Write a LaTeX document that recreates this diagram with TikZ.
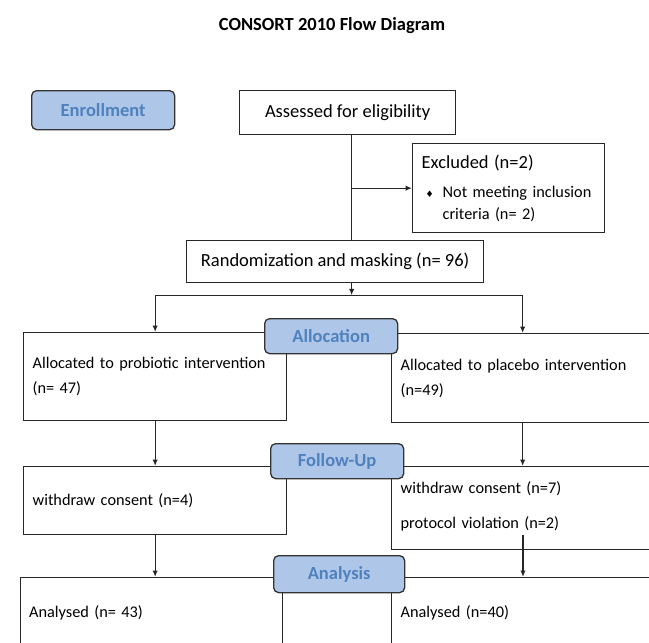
\documentclass[tikz,border=0pt]{standalone}
\usepackage{fontspec}
\setmainfont{Carlito}
\newfontfamily\symfnt{DejaVu Sans}
\usepackage{xcolor}
\usepackage{tikz}
\usetikzlibrary{calc, positioning, arrows.meta}

\definecolor{stagefill}{RGB}{174,198,232}
\definecolor{stagetext}{RGB}{79,129,189}
\newcommand{\bigtxt}{\fontsize{18.5}{22}\selectfont}
\newcommand{\smtxt}{\fontsize{16.3}{25}\selectfont}

\tikzset{
  box/.style={draw=black!85, line width=1.3pt, anchor=north west, inner xsep=9pt, inner ysep=0pt, align=left, font=\smtxt},
  midbox/.style={box, align=center, font=\bigtxt},
  stage/.style={draw=black!80, fill=stagefill, line width=1.3pt, rounded corners=5pt, anchor=north west, inner sep=0pt, text=stagetext, font=\bigtxt\bfseries},
  conn/.style={draw=black!85, line width=1.3pt},
  arr/.style={conn, ->},
}

\begin{document}
\begin{tikzpicture}[>={Latex[length=6.5pt,width=5.5pt]}, x=1pt, y=-1pt]
    \useasboundingbox (0,0) rectangle (649,643);
    \clip (0,0) rectangle (649,643);

    % Title
    \node[anchor=base, font=\bigtxt\bfseries] (title) at (332,30) {CONSORT 2010 Flow Diagram};

    % Enrollment
    \node[midbox, minimum width=216pt, minimum height=44pt] (assess) at (239,90) {Assessed for eligibility};
    \node[box, text width=174pt, minimum height=89pt] (excl) at (412,143)
        {{\bigtxt Excluded (n=2)}\\[4pt]
         \makebox[21pt][l]{\hspace{4pt}{\symfnt\fontsize{9}{9}\selectfont ♦}}Not meeting inclusion\\[-3pt]
         \hspace*{21pt}criteria (n= 2)};
    \node[midbox, minimum width=297pt, minimum height=42pt] (rand) at (186,240) {Randomization and masking (n= 96)};

    % Allocation
    \node[box, text width=245pt, minimum height=88pt] (allocL) at (23,332) {Allocated to probiotic intervention\\(n= 47)};
    \node[box, text width=244pt, minimum height=89pt] (allocR) at (391,333) {Allocated to placebo intervention\\(n=49)};

    % Follow-up
    \node[box, text width=245pt, minimum height=68pt] (folL) at (23,466) {withdraw consent (n=4)};
    \node[box, text width=244pt, minimum height=83pt] (folR) at (391,466) {withdraw consent (n=7)\\[10pt]protocol violation (n=2)\\[-18pt]\mbox{}};

    % Analysis
    \node[box, inner xsep=8.5pt, text width=245pt, minimum height=70pt] (anaL) at (20,577) {Analysed (n= 43)};
    \node[box, text width=244pt, minimum height=70pt] (anaR) at (391,577) {Analysed (n=40)};

    % Connectors
    \coordinate (trunk) at ($(assess.south)+(4,0)$);
    \draw[conn] (trunk) -- (trunk |- rand.north);
    \draw[arr] (trunk |- excl.west) -- (excl.west);
    \coordinate (split) at ($(trunk |- rand.south)+(0,12)$);
    \draw[arr] (trunk |- rand.south) -- (split);
    \draw[conn] (split -| allocL.north) -- (split -| allocR.north);
    \draw[arr] (split -| allocL.north) -- (allocL.north);
    \draw[arr] (split -| allocR.north) -- (allocR.north);
    \draw[arr] (allocL.south) -- (folL.north);
    \draw[arr] (allocR.south) -- (folR.north);
    \draw[arr] (folL.south) -- (folL.south |- anaL.north);
    \coordinate (pv) at (523,535);
    \draw[arr] (pv) -- (pv |- anaR.north);

    % Stage labels
    \node[stage, minimum width=143pt, minimum height=39pt] (enrol) at (31,90) {Enrollment};
    \node[stage, minimum width=133pt, minimum height=35pt] (allocS) at (264,318) {Allocation};
    \node[stage, minimum width=133pt, minimum height=35pt] (folS) at (270,443) {Follow-Up};
    \node[stage, minimum width=131pt, minimum height=37pt] (anaS) at (273,555) {Analysis};
\end{tikzpicture}
\end{document}
